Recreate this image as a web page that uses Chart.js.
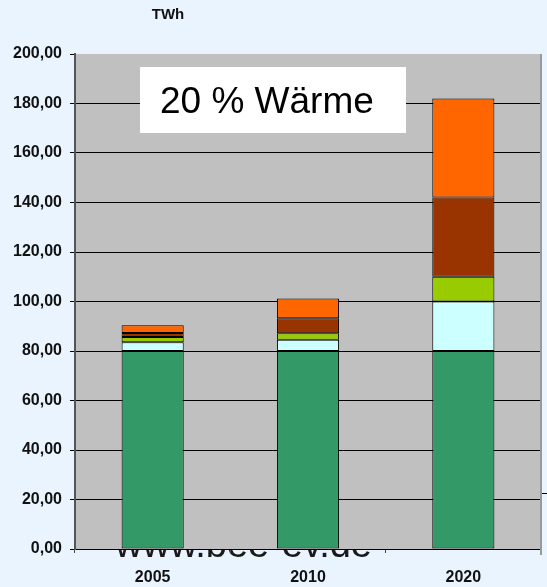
<!DOCTYPE html>
<html>
<head>
<meta charset="utf-8">
<script src="https://cdn.jsdelivr.net/npm/chart.js@4.4.1/dist/chart.umd.min.js"></script>
<style>
  html, body { margin: 0; padding: 0; background: #EAF4FF; }
  #wrap { width: 547px; height: 587px; position: relative; }
</style>
</head>
<body>
<div id="wrap"><canvas id="c" width="547" height="587"></canvas></div>
<script>
const categories = ['2005', '2010', '2020'];
const seriesGreen = [80, 80, 80];
const seriesCyan = [3.5, 4.5, 20];
const seriesYellowGreen = [2.2, 2.7, 10];
const seriesBrown = [1.6, 6, 32];
const seriesOrange = [3.1, 8, 40];
const unitLabel = 'TWh';
const annotationText = '20 % Wärme';
const footerText = 'www.bee-ev.de';

const FONT = '"Liberation Sans", Arial, sans-serif';

const decoPlugin = {
  id: 'deco',
  beforeDraw(chart) {
    const ctx = chart.ctx;
    const a = chart.chartArea;
    ctx.save();
    ctx.fillStyle = '#EAF4FF';
    ctx.fillRect(0, 0, chart.width, chart.height);
    // footer text partly hidden behind plot area
    ctx.fillStyle = '#1a1a1a';
    ctx.font = '38px ' + FONT;
    ctx.textAlign = 'left';
    ctx.textBaseline = 'alphabetic';
    ctx.fillText(footerText, 115, 557);
    // plot background
    ctx.fillStyle = '#C0C0C0';
    ctx.fillRect(a.left, a.top, a.right - a.left, a.bottom - a.top);
    // unit label
    ctx.fillStyle = '#111';
    ctx.font = 'bold 15px ' + FONT;
    ctx.textAlign = 'center';
    ctx.textBaseline = 'alphabetic';
    ctx.fillText(unitLabel, 168, 19);
    ctx.restore();
  },
  beforeDatasetsDraw(chart) {
    const ctx = chart.ctx;
    ctx.save();
    // annotation box
    ctx.fillStyle = '#FFFFFF';
    ctx.fillRect(140, 67, 266, 66);
    ctx.fillStyle = '#000';
    ctx.font = '37px ' + FONT;
    ctx.textAlign = 'left';
    ctx.textBaseline = 'alphabetic';
    ctx.fillText(annotationText, 160, 113);
    ctx.restore();
  },
  afterDraw(chart) {
    const ctx = chart.ctx;
    const a = chart.chartArea;
    ctx.save();
    ctx.strokeStyle = '#999';
    ctx.lineWidth = 2;
    ctx.beginPath();
    ctx.moveTo(a.right, a.top);
    ctx.lineTo(a.right, a.bottom + 6);
    ctx.stroke();
    const yS = chart.scales.y;
    const yy = Math.round(yS.getPixelForValue(22.6)) + 0.5;
    ctx.strokeStyle = '#000';
    ctx.lineWidth = 1;
    ctx.beginPath();
    ctx.moveTo(a.right + 1, yy);
    ctx.lineTo(chart.width, yy);
    ctx.stroke();
    ctx.restore();
  }
};

const common = { borderColor: '#000', borderWidth: 1, borderSkipped: false, barPercentage: 0.4, categoryPercentage: 1.0 };

new Chart(document.getElementById('c'), {
  type: 'bar',
  data: {
    labels: categories,
    datasets: [
      Object.assign({ data: seriesGreen, backgroundColor: '#339966' }, common),
      Object.assign({ data: seriesCyan, backgroundColor: '#CCFFFF' }, common),
      Object.assign({ data: seriesYellowGreen, backgroundColor: '#99CC00' }, common),
      Object.assign({ data: seriesBrown, backgroundColor: '#993300' }, common),
      Object.assign({ data: seriesOrange, backgroundColor: '#FF6600' }, common)
    ]
  },
  options: {
    responsive: false,
    animation: false,
    devicePixelRatio: 1,
    layout: { padding: { top: 54, right: 6, left: 0, bottom: 0 } },
    plugins: { legend: { display: false }, tooltip: { enabled: false }, title: { display: false } },
    scales: {
      x: {
        stacked: true,
        offset: true,
        afterFit(s) { s.height = 38; },
        grid: { drawOnChartArea: false, drawTicks: true, tickLength: 4, tickColor: '#444', offset: true },
        border: { color: '#000', width: 1 },
        ticks: { color: '#111', font: { family: FONT, size: 16, weight: 'bold' }, padding: 15 }
      },
      y: {
        stacked: true,
        min: 0,
        max: 200,
        afterFit(s) { s.width = 75; },
        grid: {
          color: (c) => (c.tick && c.tick.value === 200) ? 'rgba(0,0,0,0)' : '#000',
          tickColor: '#000',
          lineWidth: 1,
          tickLength: 5
        },
        border: { color: '#555', width: 2 },
        ticks: {
          stepSize: 20,
          color: '#111',
          padding: 8,
          font: { family: FONT, size: 16, weight: 'bold' },
          callback: (v) => v.toFixed(2).replace('.', ',')
        }
      }
    }
  },
  plugins: [decoPlugin]
});
</script>
</body>
</html>
